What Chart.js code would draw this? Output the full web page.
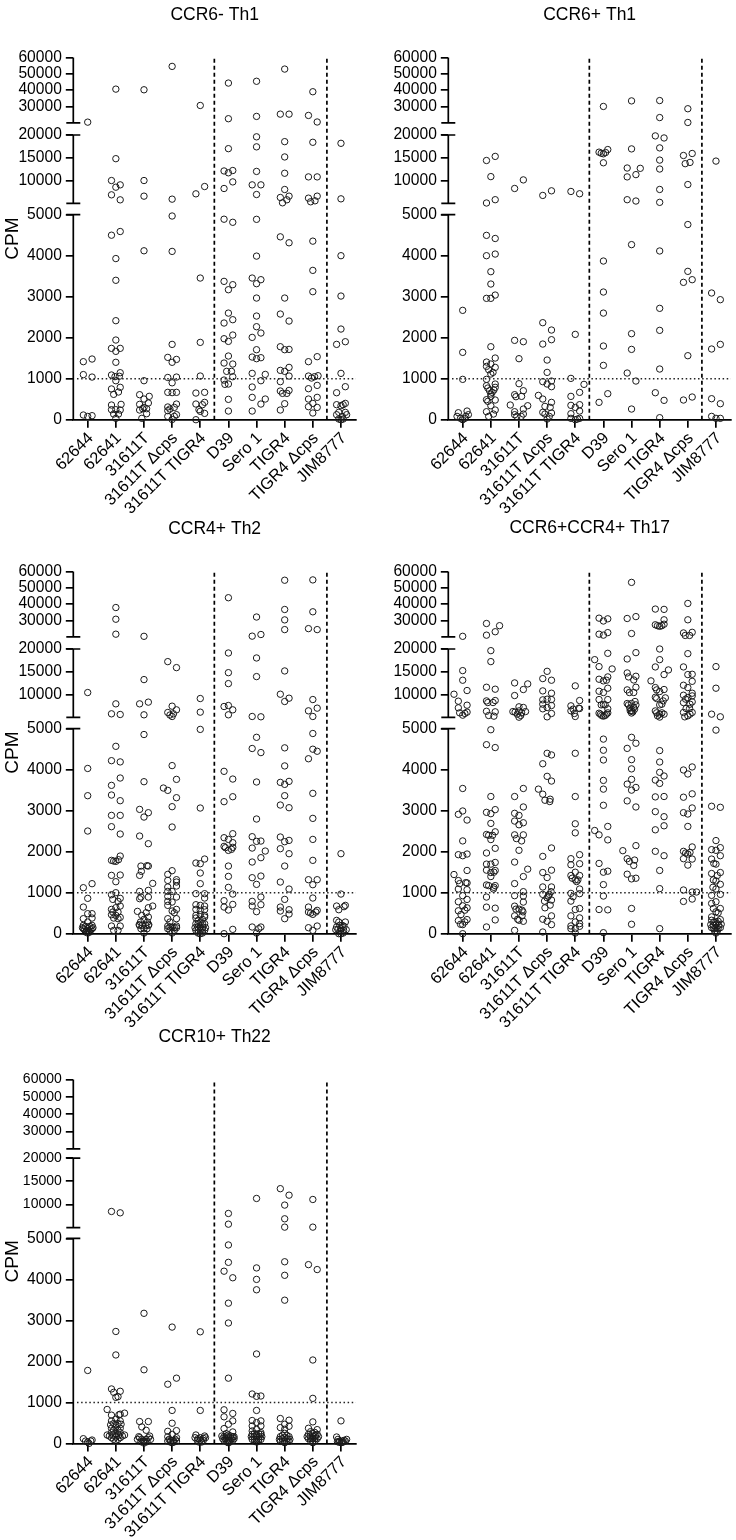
<!DOCTYPE html>
<html>
<head>
<meta charset="utf-8">
<title>CPM by strain</title>
<script src="https://cdn.jsdelivr.net/npm/chart.js@4/dist/chart.umd.min.js"></script>
<style>
  html, body { margin: 0; padding: 0; background: #fff; }
  #page { position: relative; width: 736px; height: 1540px; overflow: hidden; }
  canvas { position: absolute; }
</style>
</head>
<body>
<div id="page"></div>
<script>
const categories = ['62644', '62641', '31611T', '31611T \u0394cps', '31611T TIGR4', 'D39', 'Sero 1', 'TIGR4', 'TIGR4 \u0394cps', 'JIM8777'];
const yTicks = [0, 1000, 2000, 3000, 4000, 5000, 10000, 15000, 20000, 30000, 40000, 50000, 60000];
const dividers = [4.5, 8.5];
const threshold = 1000;

// every point is [jitter slot, CPM], one list per category
const ccr6NegTh1 = [
  [[0,20400],[-1,1415],[1,1480],[-1,1100],[1,1040],[-1,114],[0,80],[1,98]],
  [[0,40600],[0,14800],[-1,10000],[0,8540],[1,9050],[-1,6860],[1,5760],[-1,4500],[1,4590],[0,3930],[0,3400],[0,2415],[0,1943],[-1,1740],[1,1740],[0,1667],[0,1400],[1,1146],[-1,1090],[-0.2,1050],[0.8,1060],[0,950],[-1,750],[1,790],[0.6,675],[-0.5,618],[-1,358],[1.2,374],[-1,244],[0,244],[1,236],[-0.5,138],[0.6,138],[0,33]],
  [[0,40200],[0,10000],[0,6570],[0,4120],[0,951],[-1,610],[0,504],[1.2,570],[-1,374],[1,407],[0,300],[-1,236],[-0.3,268],[0.6,268],[-0.5,33],[0.6,146]],
  [[0,54500],[0,5911],[0,4968],[0,4105],[0,1837],[-1,1520],[1,1470],[0,1400],[-1,1030],[1,1040],[0,900],[-1,667],[0,660],[1,667],[1,382],[-1,310],[0.5,300],[-0.5,260],[-1,220],[1,122],[-1,81],[0.5,81],[0,5]],
  [[0,30600],[1,8685],[-1,7080],[0,3455],[0,1886],[0,1065],[-1,650],[1,667],[1,423],[-1,382],[0.5,366],[-0.3,244],[0,204],[1,154],[-1,0]],
  [[0,44300],[0,22500],[0,17000],[-1,12100],[0,11700],[1,12200],[1,9700],[-1,8250],[-1,4890],[1,4815],[-1,3374],[1,3293],[0,3170],[0,2600],[-1,2358],[1,2439],[-1,1975],[0,1910],[1,2065],[0,1553],[-1,1382],[1,1358],[-0.4,1179],[0.7,1179],[-1,967],[1,1049],[-0.8,862],[0,870],[0,496],[0,211]],
  [[0,45400],[0,23900],[0,19600],[0,17400],[0,12000],[-1,9050],[1,9050],[0,6930],[0,4887],[0,3990],[-1,3455],[1,3415],[0,3317],[0,2967],[0,2528],[0,2268],[1,2114],[-1,2008],[0,1707],[-1,1528],[0,1488],[1,1512],[-1,1130],[2,1105],[1,951],[-1,797],[-1,545],[2,504],[1,382],[-1,211]],
  [[0,52860],[-1,25300],[1,25300],[0,18540],[0,15180],[0,11600],[0,8030],[-1,6280],[1,6570],[0.5,5770],[-0.5,5108],[-1,4460],[1,4315],[0,2967],[-1,2577],[1,2406],[-1,1780],[0,1707],[1,1715],[-1,1203],[0,1179],[1,1276],[1,1065],[-1,927],[-1,700],[1,715],[-0.5,642],[0.5,642],[0,390],[-1,236]],
  [[0,39000],[-1,24500],[1,20500],[0,18400],[-1,10800],[1,10800],[-1,6130],[1,6570],[-0.5,5330],[0.5,5546],[0,4355],[0,3642],[0,3122],[-1,1415],[1,1537],[-1,1065],[-0.3,1016],[0.4,1049],[1.2,1073],[1,837],[-1,756],[1,545],[-1,504],[0,398],[-1,317],[1,300],[0,163]],
  [[0,18175],[0,5980],[0,4000],[0,3016],[0,2211],[-1,1837],[1,1902],[0,1130],[1,805],[-1,658],[-1,366],[0,341],[1,398],[0.5,366],[-0.5,179],[-1,122],[1,179],[1.3,122],[-0.5,16],[0,0],[0.5,16],[0.3,81]]
];
const ccr6PosTh1 = [
  [[0,2667],[0,1642],[0,984],[-1,170],[1,211],[-1.3,81],[-0.5,33],[0.5,33],[1.3,122],[0,0],[0.7,81]],
  [[-1,14400],[1,15300],[0,10860],[-1,5065],[1,5790],[-1,4496],[1,4420],[-1,4000],[1,4040],[0,3610],[0,3309],[-1,2960],[0,2960],[1,3040],[0,1780],[1,1504],[-1,1406],[-1,1300],[0,1358],[1,1276],[-0.5,1220],[0.5,1154],[0,1114],[-1,984],[-1,830],[1,870],[-0.7,772],[1,789],[-0.3,707],[0.7,724],[0,626],[0.3,667],[0,569],[-1,488],[1,480],[-0.7,447],[0,341],[1,236],[-1,195],[0.6,138],[-0.5,81]],
  [[-1,8255],[1,10140],[-1,1935],[1,1902],[0,1488],[0,878],[1,707],[-1,610],[-0.7,561],[0.6,569],[-2,358],[2,341],[1,260],[-1,195],[-1,122],[1,138],[-0.5,81],[0.5,81]],
  [[-1,6730],[1,7740],[-1,2366],[1,2187],[1,1951],[-1,1845],[0,1455],[0,1154],[-1,927],[1,943],[0,870],[1,805],[-2,593],[-1,504],[1,423],[-0.5,325],[0.7,300],[-1,179],[1,163],[-0.5,138],[0,16],[0.5,81]],
  [[-1,7600],[1,7095],[0,2081],[-1,1008],[2,862],[1,667],[-1,569],[-1,350],[1,366],[0,300],[1,211],[-1,146],[-1,33],[0,0],[1,33],[0.5,16]],
  [[0,30000],[-1,16230],[-0.5,16000],[0,15870],[0.5,16150],[1,16800],[0,13900],[0,3870],[0,3114],[0,2600],[0,1797],[0,1325],[1,634],[-1,423]],
  [[0,33400],[0,16950],[-1,12750],[2,12680],[1,11300],[-1,10800],[-1,5790],[1,5500],[0,4270],[0,2098],[0,1715],[-1,1138],[1,943],[0,260]],
  [[0,33600],[0,23200],[-1,19800],[1,19350],[0,17170],[0,14490],[0,12530],[0,8040],[0,5210],[0,4115],[0,2716],[0,2179],[0,1236],[-1,658],[1,472],[0,49]],
  [[0,28600],[0,20200],[-1,15500],[1,15940],[-0.6,13700],[0.5,13980],[0,9120],[0,4760],[0,3618],[-1,3350],[1,3415],[0,1561],[-1,480],[1,553]],
  [[0,14270],[-1,3090],[1,2927],[-1,1724],[1,1837],[-1,512],[1,390],[-1,81],[0,33],[1,33]]
];
const ccr4Th2 = [
  [[0,10440],[0,4030],[0,3366],[0,2504],[1,1220],[-1,1122],[0,862],[-1,650],[0,488],[1,488],[-1,366],[1,382],[0,285],[-1,203],[-0.5,179],[0.5,179],[1,203],[1.2,146],[-1.2,146],[-0.7,98],[0.7,98],[-0.3,65],[0.3,65],[0,16],[-1,122],[1,122],[0,122],[-0.5,41],[0.5,41]],
  [[0,37900],[0,30750],[0,21600],[0,7955],[-1,5765],[1,5620],[0,4570],[-1,4220],[1,4190],[1,3797],[-1,3618],[-1,3382],[1,3244],[-1,2886],[1,2886],[-1,2610],[1,2431],[1,1894],[-1,1789],[-0.5,1772],[0,1764],[0.6,1805],[-1,1423],[1,1431],[0,1268],[0,1000],[-1,951],[1,862],[-0.7,837],[0.5,789],[1,675],[-1,593],[0,634],[-0.7,528],[-1,463],[0.5,528],[0,447],[-0.5,382],[0.5,366],[1,398],[-1,187],[1,187],[-0.5,81],[0.5,81]],
  [[0,20300],[0,13280],[-1,7955],[1,8330],[0,5546],[0,4858],[0,3707],[-1,3032],[1,2951],[0,2845],[-1,2382],[1,2195],[-0.7,1650],[0.7,1658],[1,1650],[-1,1423],[-0.6,1520],[2,1227],[-1,1032],[1,1057],[-1,854],[-0.7,894],[1,894],[2,675],[1,634],[-1.5,545],[0.5,512],[-0.5,447],[1,406],[0,350],[-0.8,285],[0.8,285],[-1,203],[-0.4,203],[0.4,203],[1,203],[-0.7,122],[0,122],[0.7,122],[0,16],[-1.1,220],[1.1,220]],
  [[-1,17226],[1,15912],[0,7444],[1,6640],[-1,6057],[0.3,5765],[-0.5,5500],[0,5180],[0,4100],[-2,3553],[-1,3496],[1,3764],[1,3317],[0,3098],[0,2602],[0,1537],[-1,1447],[-1,1300],[1,1317],[1,1260],[-1,1138],[1,1163],[-1,1032],[0,1032],[1,894],[-1,910],[-1,789],[0,772],[-1,691],[1,593],[0,553],[0.5,512],[-1,366],[1,366],[-0.5,285],[-1,187],[-0.5,163],[0,163],[0.5,146],[1,187],[-1,122],[1,146],[-0.5,81],[0.5,81],[0,16]],
  [[0,9123],[0,6130],[0,4983],[0,3065],[-1,1724],[0,1707],[1,1821],[0,1480],[0,1220],[-1,976],[1,976],[1,870],[-1,707],[0,691],[1,675],[-1,593],[0,569],[1,585],[-1,447],[0,463],[1,447],[-1,382],[1,406],[-0.5,325],[0.5,350],[-1,244],[-0.5,244],[0,268],[0.5,244],[1,244],[-1.2,146],[-0.6,163],[0,163],[0.6,163],[1.2,146],[-1,81],[-0.5,81],[0,81],[0.5,81],[1,81],[-0.5,16],[0,0],[0.5,16]],
  [[0,43900],[0,19124],[0,14800],[0,12400],[-1,7370],[0,7590],[1,6640],[0,5546],[-1,3960],[1,3772],[1,3341],[-1,3220],[1,2439],[-1,2341],[0,2300],[1,2220],[-1,2130],[-0.7,2098],[0,2032],[0.7,2057],[1,2106],[0,1650],[0,1398],[0,1130],[1,967],[-1,805],[-1,650],[1,715],[0,577],[-1,0],[1,106]],
  [[0,32100],[-1,20400],[1,21400],[0,18030],[0,13940],[-1,5180],[1,5110],[0,4790],[-1,4517],[1,4417],[0,3700],[0,2797],[-1,2366],[0,2252],[1,2260],[2,2016],[-1,2089],[1,1854],[-1,1748],[1,1406],[-1,1366],[0,1203],[1,894],[1,707],[-1,789],[-1,675],[0,537],[-1,163],[1,163],[0.5,122],[0,16]],
  [[0,54600],[0,36700],[0,30350],[0,24400],[0,15180],[-1,10070],[1,9196],[0,8466],[0,4533],[0,4092],[-1,3691],[0,3642],[1,3715],[0,3366],[-1,3138],[1,3073],[-1,2358],[0,2244],[1,2276],[-1,2073],[1,1951],[0,1650],[-1,1260],[1,1089],[0,837],[-1,650],[1,585],[-1,553],[0,366],[1,480]],
  [[0,54800],[0,35300],[-1,25000],[1,24400],[0,8900],[-1,6420],[1,7010],[0,5180],[0,4883],[0,4500],[1,4450],[-1,4267],[0,3423],[0,2813],[0,2300],[0,1789],[-1,1317],[1,1317],[0,1195],[0,870],[-1,650],[-1,528],[1,569],[-0.5,504],[0,472],[0.7,528],[-1,146],[1,187],[0,81]],
  [[0,1951],[0,967],[-1,675],[-0.5,585],[1,691],[0.7,659],[-1,325],[-0.5,285],[1,285],[-1,163],[-0.3,203],[0.3,203],[0.7,179],[-1.2,98],[-0.7,106],[0,122],[1.2,98],[0.6,81],[-0.5,0],[0,0],[0.5,16],[-0.2,65]]
];
const ccr6Ccr4Th17 = [
  [[0,20300],[0,15250],[0,13140],[1,10880],[-2,10070],[-1,8540],[1,7660],[-1,7080],[-0.7,5980],[0,5470],[0.5,5840],[1,6130],[0,3542],[0,2993],[-1,2911],[1,2772],[0,2263],[-1,1927],[0,1902],[1,1943],[1,1542],[-2,1443],[-1,1296],[-0.7,1222],[0.7,1246],[1,1238],[-1,1090],[1,1074],[0,927],[1,836],[-1,779],[0,680],[1,631],[-1,558],[0.5,574],[-0.4,467],[-1,320],[1,344],[0.5,287],[-0.5,230],[0,221],[0,0]],
  [[-1,28130],[2,26800],[1,23100],[-1,21000],[0,19635],[0,17230],[-1,11600],[1,11170],[-1,8600],[-0.7,8240],[0.5,8240],[1,8680],[-1,6320],[1,6200],[-0.5,5400],[0.7,5250],[0,4975],[-1,4610],[1,4540],[0,3346],[-1,2960],[0,2927],[1,3026],[0,2690],[-1,2420],[-0.5,2400],[0.4,2400],[1,2485],[0,2296],[-1,1968],[1,2083],[-1,1697],[0,1697],[1,1738],[-1,1550],[0.7,1500],[1,1542],[0,1492],[0,1394],[-1,1189],[-0.5,1173],[0.7,1131],[1,1173],[0.6,1090],[-1,894],[-1,648],[1,623],[1,336],[-1,164]],
  [[-1,12550],[1,11100],[2,12330],[-1,9780],[-1.4,6260],[-0.9,6130],[-0.4,5690],[0,7300],[1,7160],[1.5,6260],[0,6400],[0.6,5980],[0.4,5400],[0,5025],[1,3542],[-1,3346],[1,3091],[-1,2936],[0,2886],[-1,2747],[1,2706],[0,2657],[-1,2411],[1,2411],[-0.6,2320],[0.6,2263],[0,2034],[-1,1747],[2,1574],[1,1394],[-1,1222],[1,1025],[-1,927],[1,918],[1,771],[-1,672],[-0.7,599],[0,599],[0.7,574],[-1,435],[0.9,533],[0.7,435],[-0.3,353],[1,303],[0,328],[-1,82]],
  [[0,15100],[-1,13500],[1,13140],[-1,10800],[1,10290],[-1,8830],[0,8980],[1,8900],[-1,7880],[1,7590],[-1,6860],[0,7150],[1,5840],[0,5100],[0,4400],[1,4360],[-1,4145],[1,3723],[0,3838],[-2,3526],[-1,3403],[-0.5,3255],[0.7,3280],[0.6,3223],[1,2091],[-1,1886],[1,1550],[-1,1492],[0,1370],[-1,1140],[1,1140],[-1,959],[0.9,1025],[0.5,959],[1,820],[0,877],[-0.6,795],[0.3,918],[0.7,697],[-0.5,631],[1,435],[-1,353],[0,303],[1,221],[-1,41]],
  [[0,11900],[1,8680],[-1,7520],[-0.5,6790],[-1,6420],[0.8,7000],[1,6930],[0,5180],[-0.2,5840],[0,4400],[0,3346],[0,2681],[0,2460],[1,1927],[-1,1829],[-1,1681],[1,1706],[0,1500],[-1,1419],[1,1419],[-0.7,1353],[0,1312],[0.6,1312],[0.3,1271],[1,1090],[-1,984],[1,976],[-0.5,902],[-1,795],[0,590],[1,615],[-1,435],[1,385],[0,287],[1,246],[-1,189],[-1,123],[1,180],[0,123],[0,16]],
  [[-1,31400],[0,29660],[1,31000],[-1,21600],[0,21020],[1,22550],[1,19050],[-2,17660],[-1,16130],[2,15620],[-1,13360],[0,13000],[0.7,13140],[1,13870],[-1,10730],[1,11390],[0,10440],[-1,8900],[1,8900],[0,7800],[-0.5,7730],[1,6860],[0.4,7730],[-1,5900],[-0.7,5690],[-0.4,5400],[0,5250],[0.4,5400],[0.7,5690],[1,5980],[0,4746],[0,4475],[0,4237],[0,3739],[0,3526],[0,3132],[-2,2517],[-1,2411],[1,2616],[1,2288],[-1,1714],[0,1500],[1,1525],[0,1197],[0,918],[-1,590],[1,582],[0,25]],
  [[0,53280],[-1,31200],[1,32350],[0,22000],[1,19200],[-1,17810],[-1,14740],[-0.7,13870],[1,14010],[0.5,13200],[-1,11020],[1,11600],[-0.5,10440],[0.5,10440],[-1,8030],[-0.7,7730],[-0.4,7010],[0,8030],[0,6420],[0.5,7150],[0.8,8470],[1,7730],[-0.3,6420],[0.3,6200],[0,5940],[0.7,6790],[0,4790],[1,4645],[-1,4520],[0,4245],[0,4020],[0,3764],[-1,3649],[0,3501],[1,3567],[-1,3239],[1,3091],[1,2148],[-2,2025],[-1,1829],[-0.5,1763],[0.7,1796],[0.5,1665],[-1,1451],[0,1337],[1,1353],[0,615],[0,230]],
  [[-1,36960],[1,36770],[-1,27360],[0,26400],[-0.5,26800],[0.5,26800],[1,27700],[1,30400],[0,20000],[0,17660],[-1,16060],[2,15400],[1,14380],[-2,13000],[-1,11530],[-0.7,11020],[0,10660],[1,11100],[-1,9400],[-0.7,9120],[1.3,9270],[0.8,8600],[0,7730],[0.5,7880],[-1,6400],[-0.7,5980],[0,5690],[0.5,5980],[1,5690],[0,5050],[-0.5,5330],[0,4466],[0,4187],[1,3846],[0,3936],[-1,3747],[0,3665],[-1,3337],[1,3346],[-1,2977],[1,2854],[1,2632],[-1,2534],[-1,2009],[1,1902],[0,1542],[0,1099],[0,123]],
  [[0,40400],[0,30400],[-1,22360],[-0.6,20830],[0.4,20830],[1,22740],[0,18980],[-1,16060],[1,14450],[0,14380],[1,12900],[-1,12040],[0,11530],[1,10290],[-1,9850],[1,9700],[0,9340],[-0.5,8980],[-1,8240],[1,8390],[0.5,7880],[-0.4,6930],[0.4,6930],[-1,6060],[1,6060],[-0.7,5100],[0,5330],[0.5,5690],[-1,3993],[0,3895],[1,4067],[-1,3329],[1,3411],[-1,2952],[0,2919],[1,3067],[0,2616],[-1,2009],[-0.5,1968],[0,1943],[0.5,1984],[1,2116],[-1,1829],[1,1820],[0,1673],[-1,1066],[1,1017],[2,1017],[1,845],[-1,787]],
  [[0,16130],[0,11390],[-1,5690],[1,5110],[0,4966],[-1,3108],[1,3083],[0,2271],[-1,2050],[0,2034],[1,2099],[-1,1820],[1,1902],[0,1697],[-0.5,1714],[-1,1468],[1,1492],[0.3,1419],[-0.6,1312],[0,1287],[1,1205],[-0.7,1132],[0,1090],[-1,935],[1,959],[-1,738],[0,779],[1,615],[-0.6,615],[0,533],[-1,410],[0.5,508],[-1,328],[-0.5,287],[0,287],[0.5,303],[1,344],[-1.2,221],[-0.6,205],[0,221],[0.6,205],[1.2,230],[-1,148],[-0.5,123],[0,139],[0.5,123],[1,148],[-0.3,66],[0.3,66],[0,16]]
];
const ccr10Th22 = [
  [[0,1779],[-1,115],[1,82],[-0.5,57],[0.3,0],[0,33],[0.7,57]],
  [[-1,8480],[1,8190],[0,2730],[0,2157],[-1,1328],[-0.5,1246],[1,1271],[0,1123],[0.5,1140],[-2,828],[-1,689],[1,713],[2,738],[0.7,697],[-1,549],[0,590],[1,549],[-1.2,451],[-0.5,484],[0.5,484],[1.2,467],[-1,369],[0,402],[1,369],[-2,205],[-1,262],[-0.5,320],[0.5,320],[1,262],[2,205],[-1.5,180],[-0.7,205],[0,238],[0.7,205],[1.5,180],[-1,139],[0,156],[1,139],[-0.5,98],[0.5,98],[0,57]],
  [[0,3173],[0,1796],[-1,533],[1,533],[-0.5,402],[0.5,320],[-1.2,164],[1.3,180],[-1,139],[-0.5,98],[0,57],[0.5,98],[1,139],[1.5,98],[-1.5,98],[-0.7,41],[0.7,41],[0,8],[-0.2,41],[0.3,41]],
  [[0,2837],[-1,1443],[1,1591],[0,804],[0,492],[-1,295],[1,312],[0,221],[-1,164],[1,139],[-0.7,98],[-0.3,74],[0.3,74],[0.7,98],[-1,57],[1,57],[0,16],[-0.4,33],[0.4,33]],
  [[0,2722],[0,804],[-1,205],[1,180],[-1.2,139],[-0.5,115],[0,139],[0.7,123],[1.2,139],[-0.7,74],[0,74],[0.7,74],[-0.3,33],[0.3,33]],
  [[0,8050],[0,5740],[0,4840],[0,4416],[-1,4200],[1,4040],[0,3420],[0,2936],[0,1591],[-1,820],[1,730],[-1,648],[1,549],[0,467],[-1,361],[1,279],[-0.5,238],[-1.5,180],[-1,164],[-0.5,180],[0,205],[0.5,180],[1,164],[1.3,164],[-1.3,115],[-0.7,115],[0,139],[0.7,115],[1.3,115],[-0.5,74],[0,74],[0.5,74],[-1,74],[1,74],[0,16],[-0.3,33],[0.3,33]],
  [[0,11290],[0,4280],[0,4000],[0,3747],[0,2181],[-1,1205],[0,1148],[1,1156],[0,804],[-1,558],[1,549],[0,508],[-1,426],[1,426],[-1,303],[0,344],[1,262],[-1,221],[-0.5,238],[0,221],[0.5,238],[1,221],[-1.2,164],[-0.6,164],[0,164],[0.6,164],[1.2,164],[-1,98],[-0.5,98],[0,98],[0.5,98],[1,98],[-0.4,49],[0,33],[0.4,49]],
  [[-1,13400],[1,12000],[0,9860],[0,6900],[0,5100],[0,4430],[0,4100],[0,3493],[-1,607],[1,566],[0,467],[-1,385],[1,418],[0,344],[0,246],[-1,164],[-0.5,197],[0.5,197],[1,164],[-1.2,98],[-0.6,115],[0,139],[0.6,115],[1.2,98],[-0.5,49],[0,57],[0.5,49],[-1,49],[1,49],[0,16]],
  [[0,11070],[0,5100],[-1,4360],[1,4240],[0,2034],[0,1099],[0,525],[-1,369],[1,336],[-0.5,287],[0.4,270],[0,238],[-1,221],[1,221],[-1.3,164],[-0.6,180],[0,180],[0.6,180],[1.3,164],[-1,115],[-0.5,115],[0,115],[0.5,115],[1,115],[-0.5,57],[0,57],[0.5,57],[0,16]],
  [[0,549],[-1,156],[1.3,98],[-0.7,98],[-0.3,57],[0.3,57],[0.7,74],[1,57],[-0.5,33],[0,16],[0.5,33],[-0.8,41],[0.2,25]]
];

// pixel offsets of the three axis pieces, measured from the top of the plot
const layoutUpper = [
  { from: 0, to: 5000, top: 157.3, bottom: 362.3 },
  { from: 5000, to: 20000, top: 77.6, bottom: 145.9 },
  { from: 20000, to: 60000, top: 0, bottom: 65.4 }
];
const layoutLower = [
  { from: 0, to: 5000, top: 159, bottom: 364 },
  { from: 5000, to: 20000, top: 78.7, bottom: 148.2 },
  { from: 20000, to: 60000, top: 0, bottom: 69.4 }
];

const panels = [
  { title: 'CCR6- Th1', groups: ccr6NegTh1, left: 0, top: 0, cpm: true, pieces: layoutUpper, titleTop: 4.5, smallTicks: false },
  { title: 'CCR6+ Th1', groups: ccr6PosTh1, left: 375, top: 0, cpm: false, pieces: layoutUpper, titleTop: 4.5, smallTicks: false },
  { title: 'CCR4+ Th2', groups: ccr4Th2, left: 0, top: 514, cpm: true, pieces: layoutUpper, titleTop: 4.5, smallTicks: false },
  { title: 'CCR6+CCR4+ Th17', groups: ccr6Ccr4Th17, left: 375, top: 514, cpm: false, pieces: layoutUpper, titleTop: 4, smallTicks: false },
  { title: 'CCR10+ Th22', groups: ccr10Th22, left: 0, top: 1022, cpm: true, pieces: layoutLower, titleTop: 5, smallTicks: true }
];

const FONT = 'Liberation Sans, Arial, sans-serif';
const INK = '#1a1a1a';
const SLOT = 0.155;   // one jitter slot, in category widths
const PLOT_TOP = 57.4;

// y axis in three linear pieces with gaps between them
class BrokenScale extends Chart.LinearScale {
  getPixelForValue(value) {
    const pieces = this.options.pieces;
    const v = Math.min(Math.max(value, 0), 60000);
    const p = pieces.find(s => v > s.from && v <= s.to) || pieces[0];
    return this.top + p.bottom + (v - p.from) / (p.to - p.from) * (p.top - p.bottom);
  }
}
BrokenScale.id = 'broken';
BrokenScale.defaults = Chart.LinearScale.defaults;
Chart.register(BrokenScale);

// draws the y axis line piece by piece, with the caps at each break
const brokenAxisPlugin = {
  id: 'brokenAxis',
  beforeDatasetsDraw(chart) {
    const scale = chart.scales.y;
    const x = chart.chartArea.left;
    const ctx = chart.ctx;
    ctx.save();
    ctx.strokeStyle = '#000';
    ctx.lineWidth = 1.7;
    scale.options.pieces.forEach(p => {
      const y0 = scale.top + p.top, y1 = scale.top + p.bottom;
      ctx.beginPath();
      ctx.moveTo(x, y0);
      ctx.lineTo(x, y1);
      if (p.from > 0) { ctx.moveTo(x - 7, y1); ctx.lineTo(x + 7, y1); }
      if (p.to < 60000) { ctx.moveTo(x - 7, y0); ctx.lineTo(x + 7, y0); }
      ctx.stroke();
    });
    ctx.restore();
  }
};

function makeDatasets(groups) {
  const sets = [];
  dividers.forEach(x => sets.push({
    data: [{ x, y: 0 }, { x, y: 60000 }],
    showLine: true, pointRadius: 0, borderColor: '#000', borderWidth: 1.7, borderDash: [4, 3], clip: false
  }));
  sets.push({
    data: [{ x: -0.38, y: threshold }, { x: 9.53, y: threshold }],
    showLine: true, pointRadius: 0, borderColor: '#222', borderWidth: 1.5, borderDash: [1.5, 2.6], clip: false
  });
  groups.forEach((list, i) => sets.push({
    data: list.map(([slot, cpm]) => ({ x: i + slot * SLOT, y: cpm })),
    showLine: false, pointRadius: 3.2, pointBorderWidth: 1, pointBorderColor: INK,
    pointBackgroundColor: 'rgba(0,0,0,0)', clip: false
  }));
  return sets;
}

panels.forEach(panel => {
  const canvas = document.createElement('canvas');
  const height = panel.smallTicks ? 518 : 515;
  canvas.width = 361;
  canvas.height = height;
  canvas.style.left = panel.left + 'px';
  canvas.style.top = panel.top + 'px';
  canvas.style.width = '361px';
  canvas.style.height = height + 'px';
  document.getElementById('page').appendChild(canvas);
  const plotHeight = panel.pieces[0].bottom;

  new Chart(canvas, {
    type: 'scatter',
    data: { datasets: makeDatasets(panel.groups) },
    plugins: [brokenAxisPlugin],
    options: {
      responsive: false,
      animation: false,
      layout: { padding: { right: 5, left: 0, top: 0, bottom: 0 } },
      plugins: {
        legend: { display: false },
        tooltip: { enabled: false },
        title: {
          display: true,
          text: panel.title,
          color: '#000',
          fullSize: false,
          font: { family: FONT, size: 17.5, weight: 'normal', lineHeight: 1.2 },
          padding: { top: panel.titleTop, bottom: PLOT_TOP - 21 - panel.titleTop }
        }
      },
      scales: {
        x: {
          type: 'linear',
          min: -0.512,
          max: 9.534,
          afterFit: s => { s.height = height - PLOT_TOP - plotHeight; },
          afterBuildTicks: s => { s.ticks = categories.map((c, i) => ({ value: i })); },
          grid: { drawOnChartArea: false, drawTicks: true, tickLength: 8, color: '#000', lineWidth: 1.7 },
          border: { display: true, color: '#000', width: 1.7 },
          ticks: {
            autoSkip: false, minRotation: 45, maxRotation: 45, color: '#000', padding: 1, labelOffset: 3,
            font: { family: FONT, size: 16.4 },
            callback: v => categories[v]
          }
        },
        y: {
          type: 'broken',
          min: 0,
          max: 60000,
          pieces: panel.pieces,
          afterFit: s => { s.width = 73.3; },
          afterBuildTicks: s => { s.ticks = yTicks.map(value => ({ value })); },
          grid: { drawOnChartArea: false, drawTicks: true, tickLength: 7.5, color: '#000', lineWidth: 1.7 },
          border: { display: false },
          title: {
            display: panel.cpm, text: 'CPM', color: '#000',
            font: { family: FONT, size: 19 }, padding: { top: 1, bottom: 0 }
          },
          ticks: {
            autoSkip: false, color: '#000', padding: 4,
            font: ctx => ({ family: FONT, size: panel.smallTicks && ctx.tick && ctx.tick.value > 5000 ? 14 : 15.6 }),
            callback: v => String(v)
          }
        }
      }
    }
  });
});
</script>
</body>
</html>
